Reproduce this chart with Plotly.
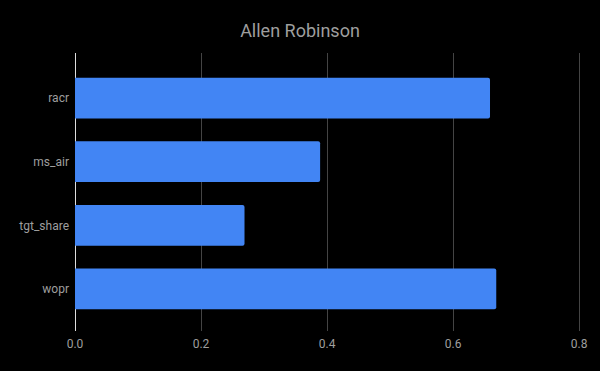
import plotly.graph_objects as go

categories = ["wopr", "tgt_share", "ms_air", "racr"]
values = [0.6685, 0.269, 0.389, 0.6586]
x_ticks = [0.0, 0.2, 0.4, 0.6, 0.8]
x_tick_labels = ["0.0", "0.2", "0.4", "0.6", "0.8"]

fig = go.Figure(go.Bar(
    x=values, y=categories, orientation="h",
    marker=dict(color="#4285F4", line=dict(width=0), cornerradius=2),
    hoverinfo="x+y",
))

fig.update_layout(
    width=600, height=371,
    paper_bgcolor="#000000", plot_bgcolor="#000000",
    margin=dict(l=74.5, r=15, t=53, b=40),
    font=dict(family="Roboto", color="#9e9e9e", size=12),
    title=dict(text="Allen Robinson", x=0.5, xanchor="center", y=0.917, yanchor="middle",
               font=dict(family="Roboto", size=18, color="#9e9e9e")),
    bargap=0.36,
    showlegend=False,
)
fig.update_xaxes(range=[0, 0.803], tickvals=x_ticks, ticktext=x_tick_labels,
                 showgrid=True, gridcolor="#444444", gridwidth=1,
                 zeroline=True, zerolinecolor="#dddddd", zerolinewidth=1,
                 showline=False, ticks="", ticklabelstandoff=4,
                 tickfont=dict(size=12, color="#9e9e9e"))
fig.update_yaxes(range=[-0.66, 3.707], showgrid=False, zeroline=False, showline=False,
                 ticks="", ticklabelstandoff=5, tickfont=dict(size=12, color="#9e9e9e"))

fig.write_html(
    "out.html",
    config={"displayModeBar": False},
    post_script="document.body.style.margin='0';document.body.style.background='#000';",
)
